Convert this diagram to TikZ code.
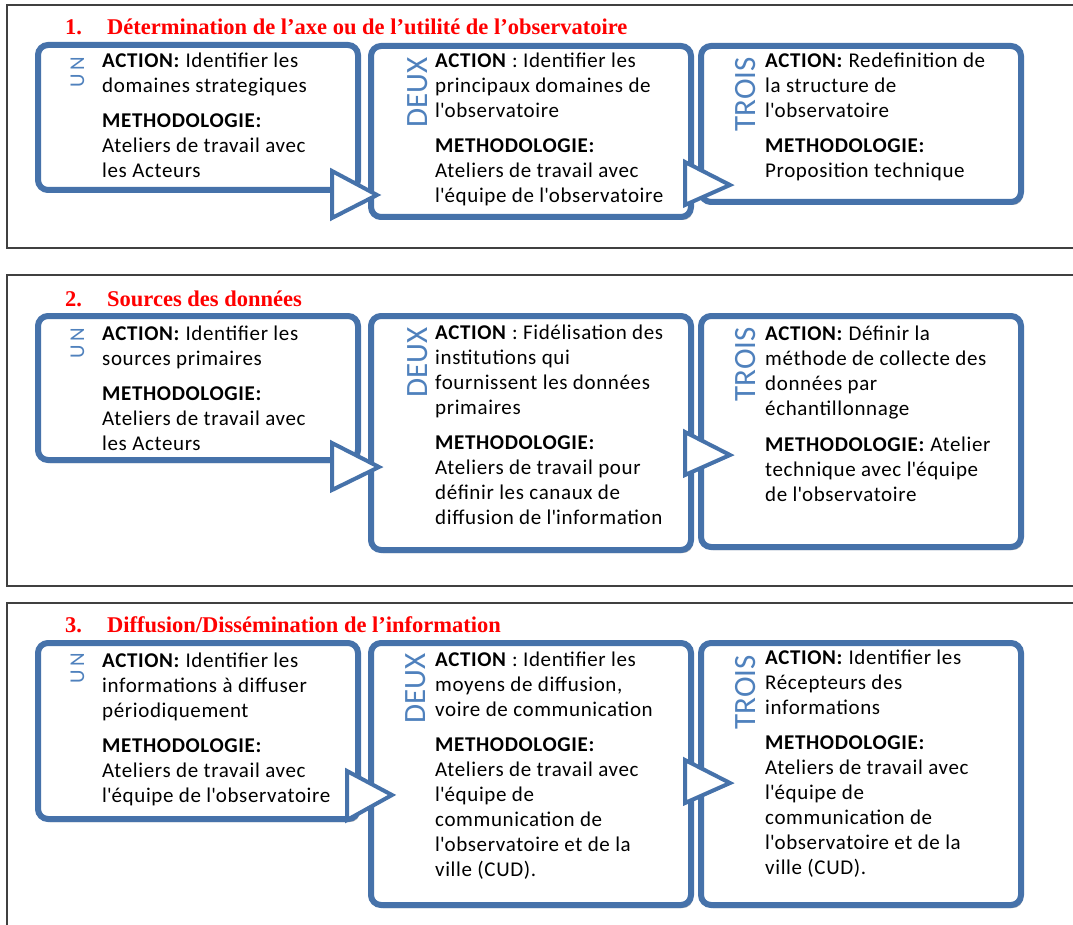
\documentclass[tikz,border=0pt]{standalone}
\usepackage{fontspec}
\setmainfont{Carlito}
\newfontfamily\bodyfont{Carlito}[LetterSpace=3]
\newfontfamily\titlefont{Liberation Serif}
\usetikzlibrary{shadows}
\definecolor{boxblue}{RGB}{70,114,170}
\definecolor{labblue}{RGB}{79,129,189}
\newcommand{\ap}{\textquotesingle}
\tikzset{
  box/.style={draw=boxblue, line width=6pt, rounded corners=10pt, fill=white, inner sep=0pt,
    drop shadow={shadow xshift=2pt, shadow yshift=-3pt, opacity=0.3, fill=black}},
  tri/.style={draw=boxblue, line width=4pt, fill=white, line join=miter},
  body/.style={anchor=base west, align=left, inner sep=0pt, font=\bodyfont\fontsize{21}{25}\selectfont},
  lab/.style={anchor=base east, rotate=90, inner sep=0pt, text=labblue, font=\fontsize{31}{31}\selectfont},
  labsmall/.style={anchor=base east, rotate=90, inner sep=0pt, text=labblue, font=\fontsize{21}{21}\selectfont},
  ttl/.style={anchor=base west, inner sep=0pt, text=red, font=\titlefont\bfseries\fontsize{22.5}{24}\selectfont},
  panel/.style={draw=black!75, line width=1.5pt}
}
\begin{document}
\begin{tikzpicture}[x=1pt,y=-1pt]
\useasboundingbox (0,0) rectangle (1073,925);
\clip (0,0) rectangle (1073,925);
% panels
\draw[panel] (1090,5) -- (7,5) -- (7,248) -- (1090,248);
\draw[panel] (1090,275) -- (7,275) -- (7,586) -- (1090,586);
\draw[panel] (1090,603) -- (7,603) -- (7,940);
% titles
\node[ttl] (t1n) at (65,35) {1.};
\node[ttl] (t1) at (107,35) {Détermination de l’axe ou de l’utilité de l’observatoire};
\node[ttl] (t2n) at (65,306) {2.};
\node[ttl] (t2) at (107,306) {Sources des données};
\node[ttl] (t3n) at (65,632) {3.};
\node[ttl] (t3) at (107,632) {Diffusion/Dissémination de l’information};
% boxes panel 1
\node[box, minimum width=320, minimum height=145] (p1a) at (198,117.5) {};
\node[box, minimum width=320, minimum height=171] (p1b) at (531,131.5) {};
\node[box, minimum width=320, minimum height=156] (p1c) at (861,124) {};
% boxes panel 2
\node[box, minimum width=320, minimum height=144] (p2a) at (198,388) {};
\node[box, minimum width=320, minimum height=234] (p2b) at (531,433) {};
\node[box, minimum width=320, minimum height=231] (p2c) at (861,431.5) {};
% boxes panel 3
\node[box, minimum width=320, minimum height=176] (p3a) at (198,731) {};
\node[box, minimum width=320, minimum height=262] (p3b) at (531,774) {};
\node[box, minimum width=320, minimum height=262] (p3c) at (861,774) {};
% arrows
\draw[tri] (332,171) -- (377,195) -- (332,218) -- cycle;
\draw[tri] (685,162) -- (730,185) -- (685,205) -- cycle;
\draw[tri] (332,443) -- (379,467) -- (332,490) -- cycle;
\draw[tri] (685,432) -- (730,455) -- (685,475) -- cycle;
\draw[tri] (347,771) -- (392,795) -- (347,820) -- cycle;
\draw[tri] (685,760) -- (730,783) -- (685,803) -- cycle;
% labels
\node[labsmall] (l1a) at (84,57) {U\kern3pt N};
\node[lab] (l1b) at (427,57) {DEUX};
\node[lab] (l1c) at (755,57) {TROIS};
\node[labsmall] (l2a) at (84,328) {U\kern3pt N};
\node[lab] (l2b) at (427,327) {DEUX};
\node[lab] (l2c) at (755,327) {TROIS};
\node[labsmall] (l3a) at (84,653) {U\kern3pt N};
\node[lab] (l3b) at (425,653) {DEUX};
\node[lab] (l3c) at (755,655) {TROIS};
% texts panel 1 (anchored at the baseline of the last line)
\node[body] (x1a) at (102,178) {\textbf{ACTION:} Identifier les\\domaines strategiques\\[10pt]\textbf{METHODOLOGIE:}\\Ateliers de travail avec\\les Acteurs};
\node[body] (x1b) at (435,203) {\textbf{ACTION} : Identifier les\\principaux domaines de\\l\ap observatoire\\[10pt]\textbf{METHODOLOGIE:}\\Ateliers de travail avec\\l\ap équipe de l\ap observatoire};
\node[body] (x1c) at (765,178) {\textbf{ACTION:} Redefinition de\\la structure de\\l\ap observatoire\\[10pt]\textbf{METHODOLOGIE:}\\Proposition technique};
% texts panel 2
\node[body] (x2a) at (102,450) {\textbf{ACTION:} Identifier les\\sources primaires\\[10pt]\textbf{METHODOLOGIE:}\\Ateliers de travail avec\\les Acteurs};
\node[body] (x2b) at (435,524) {\textbf{ACTION} : Fidélisation des\\institutions qui\\fournissent les données\\primaires\\[10pt]\textbf{METHODOLOGIE:}\\Ateliers de travail pour\\définir les canaux de\\diffusion de l\ap information};
\node[body] (x2c) at (765,501) {\textbf{ACTION:} Définir la\\méthode de collecte des\\données par\\échantillonnage\\[11pt]\textbf{METHODOLOGIE:} Atelier\\technique avec l\ap équipe\\de l\ap observatoire};
% texts panel 3
\node[body] (x3a) at (102,802) {\textbf{ACTION:} Identifier les\\informations à diffuser\\périodiquement\\[10pt]\textbf{METHODOLOGIE:}\\Ateliers de travail avec\\l\ap équipe de l\ap observatoire};
\node[body] (x3b) at (435,876) {\textbf{ACTION} : Identifier les\\moyens de diffusion,\\voire de communication\\[10pt]\textbf{METHODOLOGIE:}\\Ateliers de travail avec\\l\ap équipe de\\communication de\\l\ap observatoire et de la\\ville (CUD).};
\node[body] (x3c) at (765,874) {\textbf{ACTION:} Identifier les\\Récepteurs des\\informations\\[10pt]\textbf{METHODOLOGIE:}\\Ateliers de travail avec\\l\ap équipe de\\communication de\\l\ap observatoire et de la\\ville (CUD).};
\end{tikzpicture}
\end{document}
